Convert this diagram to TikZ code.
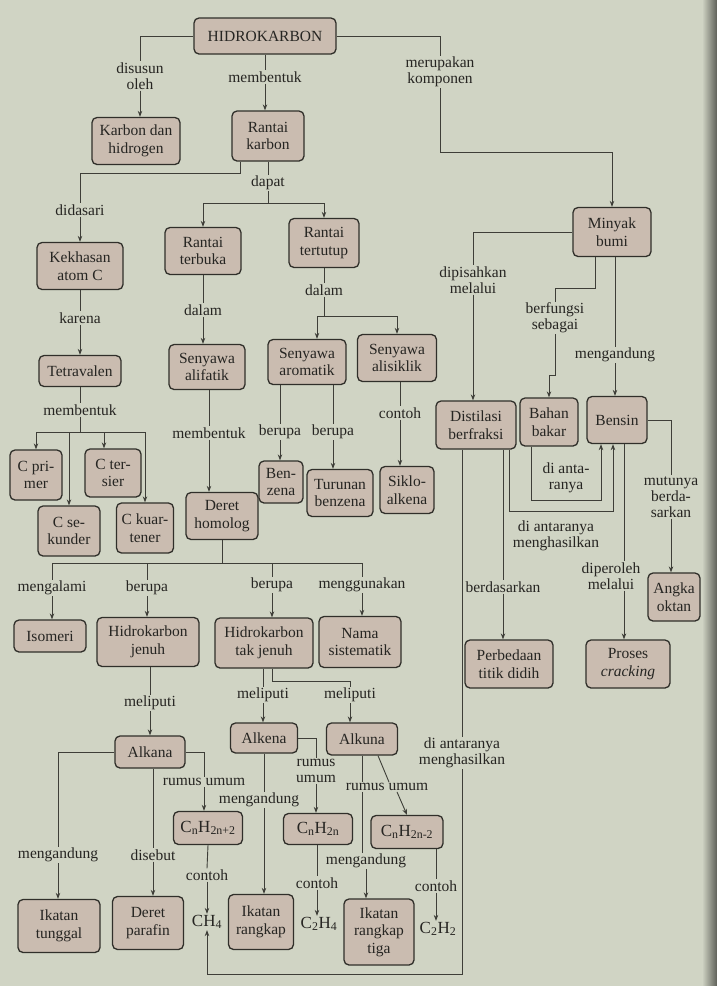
\documentclass[tikz,border=0pt]{standalone}
\usepackage{fontspec}
\setmainfont{Liberation Serif}
\usetikzlibrary{arrows.meta}
\definecolor{paper}{RGB}{208,212,196}
\definecolor{boxfill}{RGB}{202,188,176}
\definecolor{boxline}{RGB}{48,47,42}
\definecolor{linegray}{RGB}{62,62,56}
\definecolor{ink}{RGB}{38,37,34}

\begin{document}
\begin{tikzpicture}[x=1pt,y=-1pt,
		box/.style={draw=boxline, fill=boxfill, rounded corners=5pt, line width=1.3pt,
			align=center, inner sep=2pt, text=ink, font=\fontsize{15.5}{17.5}\selectfont},
		lbl/.style={align=center, inner sep=1pt, text=ink, font=\fontsize{15.5}{16}\selectfont},
		chem/.style={inner sep=1pt, text=ink, font=\fontsize{17}{18}\selectfont},
		link/.style={draw=linegray, line width=0.9pt},
		arr/.style={link, -{Stealth[length=6pt,width=4.5pt]}}]
			% 背景
			\fill[paper] (0,0) rectangle (717,986);
			\shade[left color=paper, right color=paper!45!black] (702,0) rectangle (717,986);
			
			% 方框
			\node[box, minimum width=142pt, minimum height=36pt] (hk) at (265,36) {HIDROKARBON};
			\node[box, minimum width=88pt, minimum height=47pt] (kdh) at (136,141) {Karbon dan\\hidrogen};
			\node[box, minimum width=72pt, minimum height=50pt] (rk) at (268,136) {Rantai\\karbon};
			\node[box, minimum width=78pt, minimum height=49pt] (mb) at (612,232) {Minyak\\bumi};
			\node[box, minimum width=86pt, minimum height=47pt] (kac) at (80,266) {Kekhasan\\atom C};
			\node[box, minimum width=76pt, minimum height=47pt] (rtb) at (203,251) {Rantai\\terbuka};
			\node[box, minimum width=70pt, minimum height=49pt] (rtt) at (324,243) {Rantai\\tertutup};
			\node[box, minimum width=82pt, minimum height=31pt] (tet) at (80,371) {Tetravalen};
			\node[box, minimum width=76pt, minimum height=45pt] (sal) at (207,367) {Senyawa\\alifatik};
			\node[box, minimum width=78pt, minimum height=45pt] (sar) at (307,362) {Senyawa\\aromatik};
			\node[box, minimum width=79pt, minimum height=47pt] (sas) at (397,358) {Senyawa\\alisiklik};
			\node[box, minimum width=80pt, minimum height=48pt] (dis) at (476,425) {Distilasi\\berfraksi};
			\node[box, minimum width=58pt, minimum height=48pt] (bb) at (549,422) {Bahan\\bakar};
			\node[box, minimum width=60pt, minimum height=47pt] (ben) at (617,420) {Bensin};
			\node[box, minimum width=52pt, minimum height=50pt] (cpr) at (36,475) {C pri-\\mer};
			\node[box, minimum width=56pt, minimum height=48pt] (cte) at (113,473) {C ter-\\sier};
			\node[box, minimum width=62pt, minimum height=50pt] (cse) at (69,531) {C se-\\kunder};
			\node[box, minimum width=57pt, minimum height=50pt] (cku) at (145,528) {C kuar-\\tener};
			\node[box, minimum width=72pt, minimum height=47pt] (dh) at (222,516) {Deret\\homolog};
			\node[box, minimum width=44pt, minimum height=42pt] (bz) at (281,482) {Ben-\\zena};
			\node[box, minimum width=66pt, minimum height=47pt] (tbz) at (340,493) {Turunan\\benzena};
			\node[box, minimum width=54pt, minimum height=47pt] (sak) at (407,490) {Siklo-\\alkena};
			\node[box, minimum width=72pt, minimum height=32pt] (iso) at (50,636) {Isomeri};
			\node[box, minimum width=102pt, minimum height=49pt] (hj) at (148,642) {Hidrokarbon\\jenuh};
			\node[box, minimum width=98pt, minimum height=50pt] (htj) at (264,643) {Hidrokarbon\\tak jenuh};
			\node[box, minimum width=82pt, minimum height=51pt] (ns) at (360,642) {Nama\\sistematik};
			\node[box, minimum width=88pt, minimum height=48pt] (ptd) at (509,664) {Perbedaan\\titik didih};
			\node[box, minimum width=84pt, minimum height=48pt] (pc) at (628,664) {Proses\\\textit{cracking}};
			\node[box, minimum width=52pt, minimum height=48pt] (ao) at (674,597) {Angka\\oktan};
			\node[box, minimum width=70pt, minimum height=32pt] (alka) at (150,752) {Alkana};
			\node[box, minimum width=67pt, minimum height=30pt] (alke) at (264,738) {Alkena};
			\node[box, minimum width=71pt, minimum height=32pt] (alku) at (362,739) {Alkuna};
			\node[box, minimum width=69pt, minimum height=33pt, font=\fontsize{17}{18}\selectfont] (f1) at (208,828) {C\textsubscript{n}H\textsubscript{2n+2}};
			\node[box, minimum width=69pt, minimum height=31pt, font=\fontsize{17}{18}\selectfont] (f2) at (318,829) {C\textsubscript{n}H\textsubscript{2n}};
			\node[box, minimum width=72pt, minimum height=33pt, font=\fontsize{17}{18}\selectfont] (f3) at (407,832) {C\textsubscript{n}H\textsubscript{2n-2}};
			\node[box, minimum width=82pt, minimum height=53pt] (it) at (59,926) {Ikatan\\tunggal};
			\node[box, minimum width=71pt, minimum height=53pt] (dp) at (148,923) {Deret\\parafin};
			\node[box, minimum width=65pt, minimum height=55pt] (ir) at (261,922) {Ikatan\\rangkap};
			\node[box, minimum width=70pt, minimum height=66pt] (irt) at (379,932) {Ikatan\\rangkap\\tiga};
			\node[chem] (ch4) at (207,922) {CH\textsubscript{4}};
			\node[chem] (c2h4) at (319,924) {C\textsubscript{2}H\textsubscript{4}};
			\node[chem] (c2h2) at (438,929) {C\textsubscript{2}H\textsubscript{2}};
			
			% 标注
			\node[lbl] (l1) at (140,76) {disusun\\oleh};
			\node[lbl] (l2) at (265,77) {membentuk};
			\node[lbl] (l3) at (440,72) {merupakan\\komponen};
			\node[lbl] (l4) at (80,210) {didasari};
			\node[lbl] (l5) at (268,183) {dapat};
			\node[lbl] (l6) at (80,318) {karena};
			\node[lbl] (l7) at (203,310) {dalam};
			\node[lbl] (l8) at (324,290) {dalam};
			\node[lbl] (l9) at (80,410) {membentuk};
			\node[lbl] (l10) at (209,433) {membentuk};
			\node[lbl] (l11) at (280,432) {berupa};
			\node[lbl] (l12) at (333,432) {berupa};
			\node[lbl] (l13) at (400,413) {contoh};
			\node[lbl] (l14) at (52,588) {mengalami};
			\node[lbl] (l15) at (147,588) {berupa};
			\node[lbl] (l16) at (272,585) {berupa};
			\node[lbl] (l17) at (362,585) {menggunakan};
			\node[lbl] (l18) at (150,703) {meliputi};
			\node[lbl] (l19) at (263,695) {meliputi};
			\node[lbl] (l20) at (350,695) {meliputi};
			\node[lbl] (l21) at (473,280) {dipisahkan\\melalui};
			\node[lbl] (l22) at (555,318) {berfungsi\\sebagai};
			\node[lbl] (l23) at (615,355) {mengandung};
			\node[lbl] (l24) at (566,478) {di anta-\\ranya};
			\node[lbl] (l25) at (556,536) {di antaranya\\menghasilkan};
			\node[lbl] (l26) at (503,587) {berdasarkan};
			\node[lbl] (l27) at (611,576) {diperoleh\\melalui};
			\node[lbl] (l28) at (671,497) {mutunya\\berda-\\sarkan};
			\node[lbl] (l29) at (462,753) {di antaranya\\menghasilkan};
			\node[lbl] (l30) at (58,855) {mengandung};
			\node[lbl] (l31) at (153,855) {disebut};
			\node[lbl] (l32) at (204,782) {rumus umum};
			\node[lbl] (l33) at (316,771) {rumus\\umum};
			\node[lbl] (l34) at (259,800) {mengandung};
			\node[lbl] (l35) at (387,787) {rumus umum};
			\node[lbl] (l36) at (366,861) {mengandung};
			\node[lbl] (l37) at (207,875) {contoh};
			\node[lbl] (l38) at (317,883) {contoh};
			\node[lbl] (l39) at (436,886) {contoh};
			
			% 辅助点
			\coordinate (c1) at (612,152);
			\coordinate (c2) at (268,203);
			\coordinate (c3) at (240,173);
			\coordinate (c4) at (80,432);
			\coordinate (c5) at (324,316);
			\coordinate (c6) at (222,563);
			\coordinate (c7) at (272,681);
			\coordinate (c9) at (595,288);
			\coordinate (c10) at (555,375);
			\coordinate (c12) at (462,974);
			\coordinate (c13) at (509,511);
			\coordinate (c15) at (531,500);
			\coordinate (c17) at (624,444);
			
			% 连线: HIDROKARBON
			\draw[link] (hk.west) -| (l1.north);
			\draw[arr] (l1.south) -- (l1.south |- kdh.north);
			\draw[link] (hk.south) -- (l2.north);
			\draw[arr] (l2.south) -- (l2.south |- rk.north);
			\draw[link] (hk.east) -| (l3.north);
			\draw[arr] (l3.south) |- (c1) -- (mb.north);
			
			% 连线: Rantai karbon
			\draw[link] (rk.south) -- (l5.north);
			\draw[link] (l5.south) -- (c2);
			\draw[arr] (c2) -| (rtb.north);
			\draw[arr] (c2) -| (rtt.north);
			\draw[link] (c3 |- rk.south) -- (c3) -| (l4.north);
			\draw[arr] (l4.south) -- (kac.north);
			\draw[link] (kac.south) -- (l6.north);
			\draw[arr] (l6.south) -- (tet.north);
			\draw[link] (tet.south) -- (l9.north);
			\draw[link] (l9.south) -- (c4);
			\draw[arr] (c4) -| (cpr.north);
			\draw[arr] (c4) -| (cse.north);
			\draw[arr] (c4) -| ([xshift=-9pt]cte.north);
			\draw[arr] (c4) -| (cku.north);
			\draw[link] (rtb.south) -- (l7.north);
			\draw[arr] (l7.south) -- (l7.south |- sal.north);
			\draw[link] (rtt.south) -- (l8.north);
			\draw[link] (l8.south) -- (c5);
			\draw[arr] (c5) -| ([xshift=10pt]sar.north);
			\draw[arr] (c5) -| (sas.north);
			\draw[link] (sal.south -| l10) -- (l10.north);
			\draw[arr] (l10.south) -- (l10.south |- dh.north);
			\draw[link] (sar.south -| l11) -- (l11.north);
			\draw[arr] (l11.south) -- (l11.south |- bz.north);
			\draw[link] (sar.south -| l12) -- (l12.north);
			\draw[arr] (l12.south) -- (l12.south |- tbz.north);
			\draw[link] (sas.south -| l13) -- (l13.north);
			\draw[arr] (l13.south) -- (l13.south |- sak.north);
			
			% 连线: Deret homolog
			\draw[link] (dh.south) -- (c6);
			\draw[link] (c6) -| (l14.north);
			\draw[link] (c6) -| (l15.north);
			\draw[link] (c6) -| (l16.north);
			\draw[link] (c6) -| (l17.north);
			\draw[arr] (l14.south) -- (l14.south |- iso.north);
			\draw[arr] (l15.south) -- (l15.south |- hj.north);
			\draw[arr] (l16.south) -- (l16.south |- htj.north);
			\draw[arr] (l17.south) -- (l17.south |- ns.north);
			\draw[link] (hj.south -| l18) -- (l18.north);
			\draw[arr] (l18.south) -- (l18.south |- alka.north);
			\draw[link] (htj.south -| l19) -- (l19.north);
			\draw[arr] (l19.south) -- (l19.south |- alke.north);
			\draw[link] (htj.south -| c7) -- (c7) -| (l20.north);
			\draw[arr] (l20.south) -- (l20.south |- alku.north);
			
			% 连线: Alkana, Alkena, Alkuna
			\draw[link] (alka.west) -| (l30.north);
			\draw[arr] (l30.south) -- (l30.south |- it.north);
			\draw[link] (alka.south -| l31) -- (l31.north);
			\draw[arr] (l31.south) -- (l31.south |- dp.north);
			\draw[link] (alka.east) -| (l32.north);
			\draw[arr] (l32.south) -- (l32.south |- f1.north);
			\draw[link] (alke.east) -| (l33.north);
			\draw[arr] (l33.south) -- (l33.south |- f2.north);
			\draw[link] (alke.south) -- (alke.south |- l34.north);
			\draw[arr] (alke.south |- l34.south) -- (alke.south |- ir.north);
			\draw[link] (alku.south) -- (alku.south |- l35.north);
			\draw[link] (alku.south |- l35.south) -- (alku.south |- l36.north);
			\draw[arr] (l36.south) -- (l36.south |- irt.north);
			\draw[link] ([xshift=16pt]alku.south) -- ([xshift=2pt]l35.north);
			\draw[arr] ([xshift=10pt]l35.south) -- (f3.north);
			\draw[link] (f1.south) -- (l37.north);
			\draw[arr] (l37.south) -- (ch4.north);
			\draw[link] (f2.south -| l38) -- (l38.north);
			\draw[arr] (l38.south) -- (l38.south |- c2h4.north);
			\draw[link] (f3.south -| l39) -- (l39.north);
			\draw[arr] (l39.south) -- (l39.south |- c2h2.north);
			
			% 连线: Minyak bumi
			\draw[link] (mb.west) -| (l21.north);
			\draw[arr] (l21.south) -- (l21.south |- dis.north);
			\draw[link] (mb.south -| c9) -- (c9) -| (l22.north);
			\draw[arr] (l22.south) -- (c10) -| (bb.north);
			\draw[link] (mb.south -| l23) -- (l23.north);
			\draw[arr] (l23.south) -- (l23.south |- ben.north);
			\draw[link] (dis.south -| c12) -- (c12 |- l29.north);
			\draw[arr] (c12 |- l29.south) -- (c12) -| (ch4.south);
			\draw[link] (dis.south -| l26) -- (l26.north);
			\draw[arr] (l26.south) -- (l26.south |- ptd.north);
			\draw[arr] (dis.south -| c13) -- (c13) -| ([xshift=-4pt]ben.south);
			\draw[arr] (bb.south -| c15) -- (c15) -| ([xshift=-16pt]ben.south);
			\draw[link] (ben.east) -| (l28.north);
			\draw[arr] (l28.south) -- (l28.south |- ao.north);
			\draw[link] (c17) -- (c17 |- l27.north);
			\draw[arr] (c17 |- l27.south) -- (c17 |- pc.north);
		\end{tikzpicture}
\end{document}
